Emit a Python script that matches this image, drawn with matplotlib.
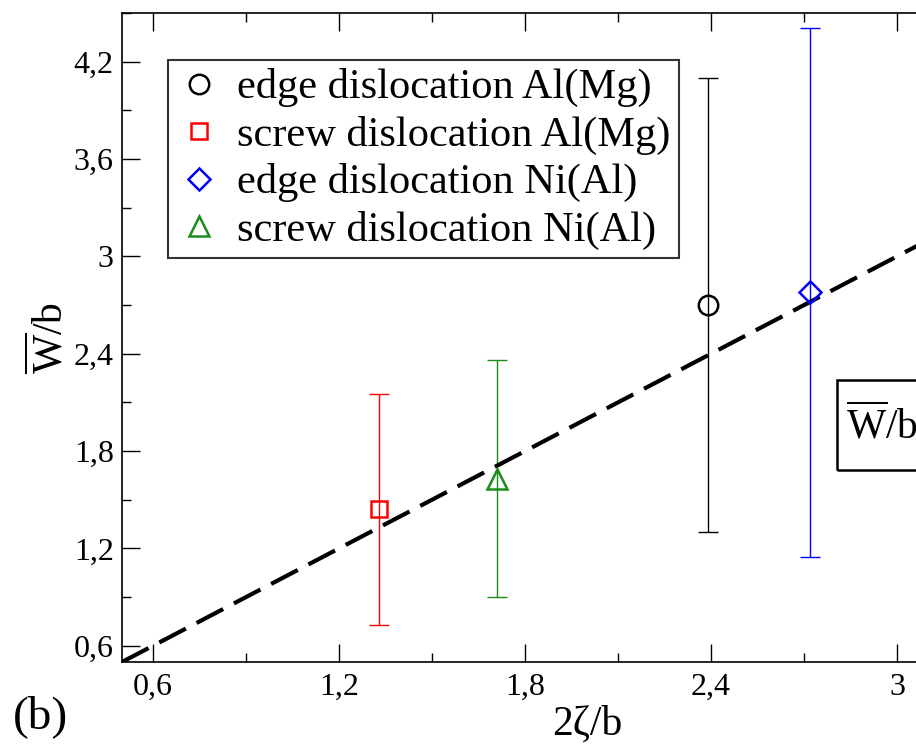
import matplotlib
matplotlib.use("Agg")
import matplotlib.pyplot as plt
from matplotlib.ticker import MultipleLocator, FuncFormatter
from matplotlib.patches import Rectangle

plt.rcParams['font.family'] = ['Liberation Serif', 'DejaVu Serif']
plt.rcParams['mathtext.fontset'] = 'custom'
plt.rcParams['mathtext.rm'] = 'Liberation Serif'

# data
labels = ["edge dislocation Al(Mg)", "screw dislocation Al(Mg)",
          "edge dislocation Ni(Al)", "screw dislocation Ni(Al)"]
x_vals = [2.39, 1.33, 2.72, 1.71]
y_vals = [2.70, 1.44, 2.78, 1.63]
y_errs = [1.40, 0.71, 1.63, 0.73]
colors = ["black", "red", "blue", "#1a8c1a"]
markers = ["o", "s", "D", "^"]
msizes = [14, 12, 11, 14]

fit_x = [0.5, 3.5]
fit_y = [0.5, 3.5]

fig = plt.figure(figsize=(9.16, 7.49), dpi=100)
# axes runs past the right edge, the original is cropped there
ax = fig.add_axes([122/916, 87/749, 930/916, 649/749])

for x, y, e, c in zip(x_vals, y_vals, y_errs, colors):
    ax.errorbar([x], [y], yerr=[e], fmt='none', ecolor=c, elinewidth=1.0,
                capsize=7, capthick=1.0, zorder=2)

ax.plot(fit_x, fit_y, color='black', lw=3, dashes=(7.2, 2.9), zorder=3)

for x, y, c, m, ms, lab in zip(x_vals, y_vals, colors, markers, msizes, labels):
    ax.plot([x], [y], linestyle='none', marker=m, ms=ms, mfc='none', mec=c,
            mew=1.8, label=lab, zorder=4)

ax.set_xlim(0.5, 3.5)
ax.set_ylim(0.5, 4.5)
ax.xaxis.set_major_locator(MultipleLocator(0.6))
ax.xaxis.set_minor_locator(MultipleLocator(0.3))
ax.yaxis.set_major_locator(MultipleLocator(0.6))
ax.yaxis.set_minor_locator(MultipleLocator(0.3))
comma = FuncFormatter(lambda v, p: ('%g' % round(v, 3)).replace('.', ','))
ax.xaxis.set_major_formatter(comma)
ax.yaxis.set_major_formatter(comma)
ax.tick_params(which='both', direction='in', top=True, right=True, width=1.0)
ax.tick_params(which='major', length=13, labelsize=23,
               labelfontfamily='Liberation Serif')
ax.tick_params(which='minor', length=6.5)
ax.tick_params(axis='x', pad=8)
ax.tick_params(axis='y', pad=6)
for s in ax.spines.values():
    s.set_linewidth(1.2)

ax.set_xlabel("2ζ/b", fontsize=30)
ax.xaxis.set_label_coords(0.5, -0.067)
ax.set_ylabel(r"$\overline{\mathrm{W}}$/b", fontsize=30)
ax.yaxis.set_label_coords(-0.055, 0.5)

leg = ax.legend(loc='upper left', bbox_to_anchor=(0.0495, 0.9276),
                borderaxespad=0, prop={'size': 30.5}, frameon=True,
                fancybox=False, edgecolor='black', handlelength=1.08,
                handletextpad=0.35, borderpad=0.2, labelspacing=0.2)
leg.get_frame().set_linewidth(1.5)

ax.add_patch(Rectangle((0.769, 0.296), 0.25, 0.139, transform=ax.transAxes,
                       fill=False, edgecolor='black', lw=1.8, zorder=5))
ax.text(0.778, 0.368, r"$\overline{\mathrm{W}}$/b = 2ζ/b", transform=ax.transAxes,
        fontsize=30, va='center', ha='left', zorder=6)

fig.text(13/916, 0.028, "(b)", fontsize=34, va='baseline', ha='left')

fig.savefig("out.png", dpi=100)
